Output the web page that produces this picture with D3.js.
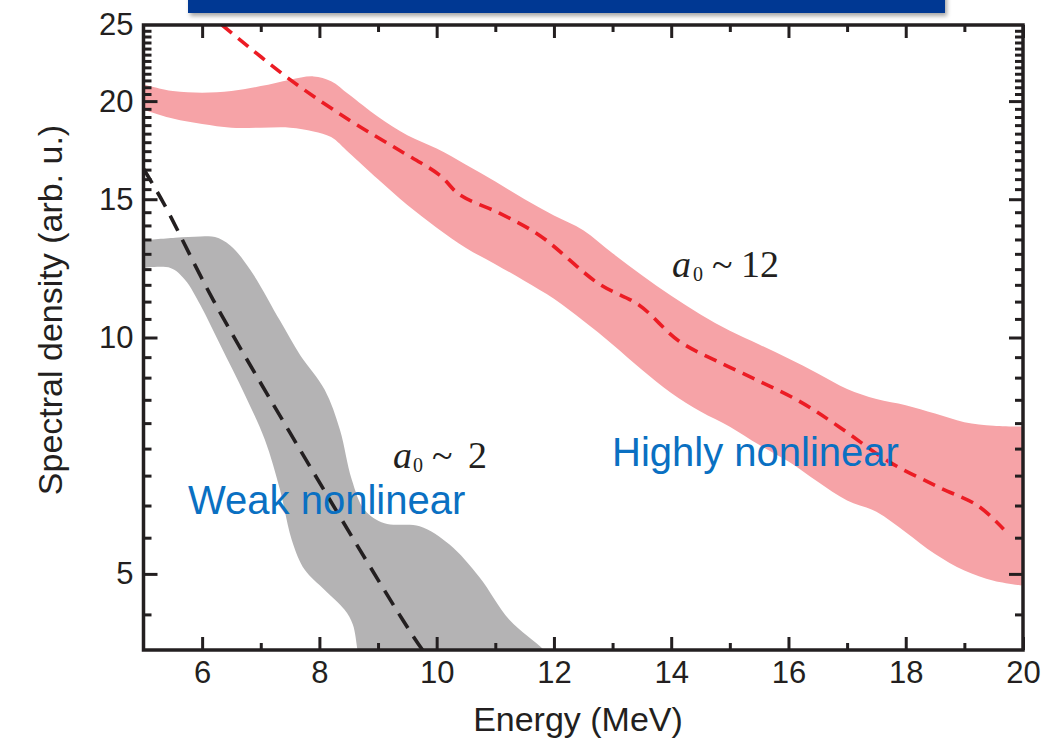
<!DOCTYPE html>
<html><head><meta charset="utf-8">
<script src="https://cdn.jsdelivr.net/npm/d3@7"></script>
<style>
html,body{margin:0;padding:0;background:#fff;}
svg{display:block;font-family:"Liberation Sans",Arial,sans-serif;}
</style></head>
<body>
<svg id="chart" width="1058" height="743"></svg>
<script>
// ---- data ----
const energyTicks = [6, 8, 10, 12, 14, 16, 18, 20];
const energyMinor = [7, 9, 11, 13, 15, 17, 19];
const densityTicks = [5, 10, 15, 20, 25];
const densityMinor = [4.44, 5.56, 6.11, 6.67, 7.22, 7.78, 8.33, 8.89, 9.44,
  10.56, 11.11, 11.67, 12.22, 12.78, 13.33, 13.89, 14.44,
  15.45, 15.91, 16.36, 16.82, 17.27, 17.73, 18.18, 18.64, 19.09, 19.55,
  20.42, 20.83, 21.25, 21.67, 22.08, 22.5, 22.92, 23.33, 23.75, 24.17, 24.58];

// a0 ~ 12 band (red)
const redEnergy = [5.0, 5.5, 6.0, 6.5, 7.0, 7.5, 7.9, 8.2, 8.5, 9.0, 9.5, 10.0, 10.5, 11.0, 11.5, 12.0, 12.5, 13.0, 13.5, 14.0, 14.5, 15.0, 15.5, 16.0, 16.5, 17.0, 17.5, 18.0, 18.5, 19.0, 19.5, 20.0];
const redUpper  = [21.0, 20.6, 20.5, 20.6, 20.9, 21.3, 21.5, 21.2, 20.4, 19.1, 18.1, 17.4, 16.6, 15.8, 15.0, 14.3, 13.7, 12.8, 12.0, 11.3, 10.7, 10.2, 9.8, 9.4, 9.0, 8.6, 8.35, 8.2, 8.0, 7.8, 7.72, 7.7];
const redLower  = [19.5, 19.0, 18.7, 18.5, 18.5, 18.5, 18.3, 18.0, 17.2, 15.9, 14.75, 13.8, 13.0, 12.4, 11.8, 11.2, 10.5, 9.8, 9.1, 8.5, 8.05, 7.7, 7.3, 6.95, 6.55, 6.2, 6.0, 5.65, 5.3, 5.05, 4.9, 4.83];
// dashed fit a0 ~ 12
const redFitEnergy = [6.34, 7.5, 8.52, 9.37, 10.05, 10.39, 11.07, 11.75, 12.77, 13.45, 14.13, 14.82, 15.5, 16.18, 16.86, 17.71, 18.56, 19.24, 19.67];
const redFitValue  = [25.0, 21.3, 18.9, 17.3, 16.1, 15.2, 14.4, 13.5, 11.7, 11.0, 9.9, 9.3, 8.8, 8.3, 7.7, 6.95, 6.45, 6.1, 5.7];

// a0 ~ 2 band (gray)
const grayUpperEnergy = [5.0, 5.54, 5.97, 6.22, 6.48, 6.82, 7.33, 7.67, 8.09, 8.35, 8.55, 8.77, 9.11, 9.71, 10.22, 10.73, 11.24, 11.83, 12.1];
const grayUpperValue  = [13.3, 13.4, 13.45, 13.43, 13.1, 12.2, 10.5, 9.5, 8.58, 7.63, 6.6, 6.03, 5.8, 5.75, 5.45, 4.95, 4.37, 4.0, 3.8];
const grayLowerEnergy = [5.0, 5.46, 5.71, 5.97, 6.31, 6.73, 7.07, 7.33, 7.53, 7.75, 8.09, 8.43, 8.57, 8.65, 8.7];
const grayLowerValue  = [12.26, 12.26, 11.84, 11.0, 9.78, 8.45, 7.41, 6.39, 5.52, 5.06, 4.77, 4.5, 4.31, 4.0, 3.8];
// dashed fit a0 ~ 2
const grayFitEnergy = [5.0, 5.34, 6.19, 7.5, 9.42, 9.76, 9.9];
const grayFitValue  = [16.4, 14.84, 11.16, 7.56, 4.37, 4.0, 3.88];

// ---- layout ----
const svg = d3.select("#chart");
const L = 143.5, R = 1023, T = 25, B = 650;
const x = d3.scaleLinear().domain([5, 20]).range([L, R]);
const y = d3.scaleLog().domain([4, 25]).range([B, T]);
const ink = "#231f20";

// banner
const defs = svg.append("defs");
const f = defs.append("filter").attr("id", "sh").attr("x", "-5%").attr("y", "-50%").attr("width", "110%").attr("height", "250%");
f.append("feDropShadow").attr("dx", 2).attr("dy", 3).attr("stdDeviation", 2).attr("flood-color", "#000").attr("flood-opacity", 0.35);
svg.append("rect").attr("x", 188).attr("y", -10).attr("width", 757).attr("height", 23)
  .attr("fill", "#003893").attr("filter", "url(#sh)");

defs.append("clipPath").attr("id", "plot").append("rect")
  .attr("x", L).attr("y", T).attr("width", R - L).attr("height", B - T);
const g = svg.append("g").attr("clip-path", "url(#plot)");

const zip = (a, b) => a.map((v, i) => [v, b[i]]);
const lineGen = d3.line().x(d => x(d[0])).y(d => y(d[1])).curve(d3.curveCatmullRom.alpha(0.5));

// red band
const redData = redEnergy.map((e, i) => ({e, lo: redLower[i], hi: redUpper[i]}));
g.append("path").datum(redData)
  .attr("d", d3.area().x(d => x(d.e)).y0(d => y(d.lo)).y1(d => y(d.hi)).curve(d3.curveCatmullRom.alpha(0.5)))
  .attr("fill", "#f6a3a7");

// gray band
const gu = lineGen(zip(grayUpperEnergy, grayUpperValue));
const gl = lineGen(zip(grayLowerEnergy, grayLowerValue).reverse());
g.append("path").attr("d", gu + "L" + gl.slice(1) + "Z").attr("fill", "#b4b3b4");

// dashed fits
g.append("path").attr("d", lineGen(zip(grayFitEnergy, grayFitValue)))
  .attr("fill", "none").attr("stroke", ink).attr("stroke-width", 3.6).attr("stroke-dasharray", "17,10");
g.append("path").attr("d", lineGen(zip(redFitEnergy, redFitValue)))
  .attr("fill", "none").attr("stroke", "#ec1c24").attr("stroke-width", 3.6).attr("stroke-dasharray", "13,8");

// axes
function styleAxis(sel) {
  sel.select(".domain").remove();
  sel.selectAll("line").attr("stroke", ink).attr("stroke-width", 3);
  sel.selectAll("text").attr("fill", ink).style("font-size", "31px").style("font-family", "Liberation Sans, Arial, sans-serif");
}
svg.append("g").attr("transform", `translate(0,${B})`)
  .call(d3.axisBottom(x).tickValues(energyTicks).tickSize(-13).tickPadding(11).tickFormat(d3.format("d"))).call(styleAxis);
svg.append("g").attr("transform", `translate(0,${B})`)
  .call(d3.axisBottom(x).tickValues(energyMinor).tickSize(-7).tickFormat("")).call(styleAxis);
svg.append("g").attr("transform", `translate(0,${T})`)
  .call(d3.axisTop(x).tickValues(energyTicks).tickSize(-13).tickFormat("")).call(styleAxis);
svg.append("g").attr("transform", `translate(0,${T})`)
  .call(d3.axisTop(x).tickValues(energyMinor).tickSize(-7).tickFormat("")).call(styleAxis);
svg.append("g").attr("transform", `translate(${L},0)`)
  .call(d3.axisLeft(y).tickValues(densityTicks.slice(0, 4)).tickSize(-14).tickPadding(10).tickFormat(d3.format("d"))).call(styleAxis);
svg.append("g").attr("transform", `translate(${L},0)`)
  .call(d3.axisLeft(y).tickValues([25]).tickSize(0).tickPadding(10).tickFormat(d3.format("d"))).call(styleAxis);
svg.append("g").attr("transform", `translate(${L},0)`)
  .call(d3.axisLeft(y).tickValues(densityMinor).tickSize(-8).tickFormat("")).call(styleAxis);
svg.append("g").attr("transform", `translate(${R},0)`)
  .call(d3.axisRight(y).tickValues(densityTicks.slice(0, 4)).tickSize(-14).tickFormat("")).call(styleAxis);
svg.append("g").attr("transform", `translate(${R},0)`)
  .call(d3.axisRight(y).tickValues(densityMinor).tickSize(-8).tickFormat("")).call(styleAxis);

// frame
svg.append("rect").attr("x", L).attr("y", T).attr("width", R - L).attr("height", B - T)
  .attr("fill", "none").attr("stroke", ink).attr("stroke-width", 3.5);

// axis titles
svg.append("text").attr("x", 578).attr("y", 731).attr("text-anchor", "middle")
  .attr("fill", ink).style("font-size", "34px").text("Energy (MeV)");
svg.append("text").attr("transform", "translate(62,310) rotate(-90)").attr("text-anchor", "middle")
  .attr("fill", ink).style("font-size", "34px").text("Spectral density (arb. u.)");

// annotations
const blue = "#0a70c2";
svg.append("text").attr("x", 188).attr("y", 514).attr("fill", blue).style("font-size", "40px").text("Weak nonlinear");
svg.append("text").attr("x", 612).attr("y", 466).attr("fill", blue).style("font-size", "40px").text("Highly nonlinear");

function a0label(x0, yb, num, xs) {
  const t = svg.append("text").attr("y", yb).attr("fill", ink)
    .style("font-family", "Liberation Serif, Times New Roman, serif").style("font-size", "38px");
  t.append("tspan").attr("x", x0).style("font-style", "italic").text("a");
  t.append("tspan").attr("x", x0 + xs[0]).attr("dy", 4).style("font-size", "20px").text("0");
  t.append("tspan").attr("x", x0 + xs[1]).attr("dy", -4).text("~");
  t.append("tspan").attr("x", x0 + xs[2]).text(num);
}
a0label(672, 277, "12", [21, 40, 69]);
a0label(393, 468, "2", [20, 39, 75]);
</script>
</body></html>
